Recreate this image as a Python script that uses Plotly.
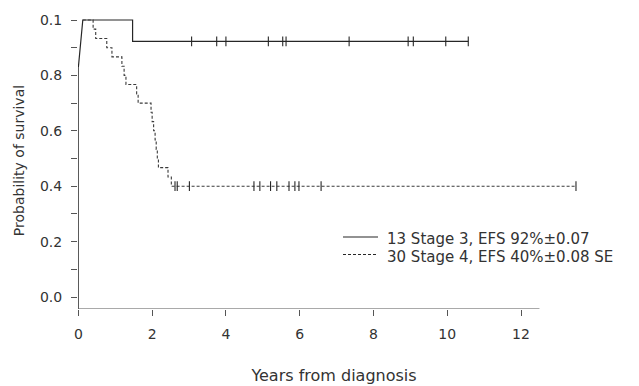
import plotly.graph_objects as go

# ---- data ----
# Stage 3 (13 patients): one event
s3_event_times = [1.47]
s3_surv = [0.923]
s3_start = 0.12
s3_end = 10.57
s3_lead_in = (0.0, 0.83)
s3_censor = [3.07, 3.75, 4.00, 5.15, 5.54, 5.63, 7.34, 8.94, 9.08, 9.96, 10.57]

# Stage 4 (30 patients): 18 events
s4_event_times = [0.40, 0.47, 0.77, 0.91, 1.18, 1.24, 1.29, 1.58, 1.62,
                  1.97, 2.00, 2.04, 2.08, 2.11, 2.14, 2.17, 2.43, 2.52]
s4_surv = [0.967, 0.933, 0.900, 0.867, 0.833, 0.800, 0.767, 0.733, 0.700,
           0.667, 0.633, 0.600, 0.567, 0.533, 0.500, 0.467, 0.433, 0.400]
s4_start = 0.12
s4_end = 13.49
s4_censor = [2.62, 2.68, 3.01, 4.76, 4.92, 5.21, 5.38, 5.71, 5.87, 5.98, 6.58, 13.49]

y_tickvals = [0.0, 0.1, 0.2, 0.3, 0.4, 0.5, 0.6, 0.7, 0.8, 0.9, 1.0]
y_ticktext = ["0.0", "", "0.2", "", "0.4", "", "0.6", "", "0.8", "", "0.1"]
x_tickvals = [0, 2, 4, 6, 8, 10, 12]
x_ticktext = ["0", "2", "4", "6", "8", "10", "12"]

legend_labels = ["13 Stage 3, EFS 92%\u00b10.07", "30 Stage 4, EFS 40%\u00b10.08 SE"]


def km_path(start, times, surv, end):
    xs, ys = [start], [1.0]
    for t, s in zip(times, surv):
        xs += [t, t]
        ys += [ys[-1], s]
    xs.append(end)
    ys.append(ys[-1])
    return xs, ys


def surv_at(times, surv, t):
    s = 1.0
    for tt, ss in zip(times, surv):
        if tt <= t:
            s = ss
    return s


LINE = "#262626"
TXT = "#333333"
FONT = "DejaVu Sans"

fig = go.Figure()

x3, y3 = km_path(s3_start, s3_event_times, s3_surv, s3_end)
x3 = [s3_lead_in[0]] + x3
y3 = [s3_lead_in[1]] + y3
fig.add_trace(go.Scatter(x=x3, y=y3, mode="lines",
                         line=dict(color=LINE, width=1.2), hoverinfo="skip"))

x4, y4 = km_path(s4_start, s4_event_times, s4_surv, s4_end)
fig.add_trace(go.Scatter(x=x4, y=y4, mode="lines",
                         line=dict(color="#3a3a3a", width=1.1, dash="3px,2px"), hoverinfo="skip"))

fig.add_trace(go.Scatter(x=s3_censor, y=[surv_at(s3_event_times, s3_surv, t) for t in s3_censor],
                         mode="markers",
                         marker=dict(symbol="line-ns", size=7, line=dict(color=LINE, width=1.1)),
                         hoverinfo="skip"))
fig.add_trace(go.Scatter(x=s4_censor, y=[surv_at(s4_event_times, s4_surv, t) for t in s4_censor],
                         mode="markers",
                         marker=dict(symbol="line-ns", size=7, line=dict(color=LINE, width=1.1)),
                         hoverinfo="skip"))

W, H = 639, 386
OFF = 8  # page body margin of the browser
ml, mt = 78 - OFF, 12 - OFF
pw, ph = 512, 297
mr, mb = W - ml - pw, H - mt - ph


def px2paper(px, py):
    # screen pixel -> paper coordinates
    return (px - OFF - ml) / pw, (mt + ph - (py - OFF)) / ph


y_bottom = -0.0433
# axis lines
fig.add_shape(type="line", xref="x", yref="y", x0=0, x1=12.5, y0=y_bottom, y1=y_bottom,
              line=dict(color="#555555", width=1.2))
fig.add_shape(type="line", xref="x", yref="y", x0=0, x1=0, y0=y_bottom, y1=s3_lead_in[1],
              line=dict(color="#555555", width=1.2))

# legend (drawn as key lines + text)
for i, (lab, dash) in enumerate(zip(legend_labels, ["solid", "3px,2px"])):
    ly = 237 + i * 17.5
    xa, ya = px2paper(343, ly)
    xb, _ = px2paper(378, ly)
    fig.add_shape(type="line", xref="paper", yref="paper", x0=xa, x1=xb, y0=ya, y1=ya,
                  line=dict(color=LINE, width=1.1, dash=dash))
    tx, ty = px2paper(386, ly + 2)
    fig.add_annotation(xref="paper", yref="paper", x=tx, y=ty, text=lab, showarrow=False,
                       xanchor="left", yanchor="middle", borderpad=0,
                       font=dict(family=FONT, size=15, color=TXT))

fig.update_layout(
    width=W, height=H,
    margin=dict(l=ml, r=mr, t=mt, b=mb, autoexpand=False),
    plot_bgcolor="white", paper_bgcolor="white",
    showlegend=False,
    font=dict(family=FONT, color=TXT),
    xaxis=dict(range=[-0.01, 13.87], tickvals=x_tickvals, ticktext=x_ticktext,
               ticks="outside", ticklen=6, tickcolor="#555555", tickwidth=1,
               showline=False, showgrid=False, zeroline=False, automargin=False,
               tickfont=dict(family=FONT, size=14, color=TXT), ticklabelstandoff=6,
               title=dict(text="Years from diagnosis", standoff=29,
                          font=dict(family=FONT, size=16, color=TXT))),
    yaxis=dict(range=[y_bottom, 1.0289], tickvals=y_tickvals, ticktext=y_ticktext,
               ticks="outside", ticklen=6, tickcolor="#555555", tickwidth=1,
               showline=False, showgrid=False, zeroline=False, automargin=False,
               tickfont=dict(family=FONT, size=14, color=TXT), ticklabelstandoff=6,
               title=dict(text="Probability of survival", standoff=12,
                          font=dict(family=FONT, size=14, color=TXT))),
)

fig.write_html("out.html")
